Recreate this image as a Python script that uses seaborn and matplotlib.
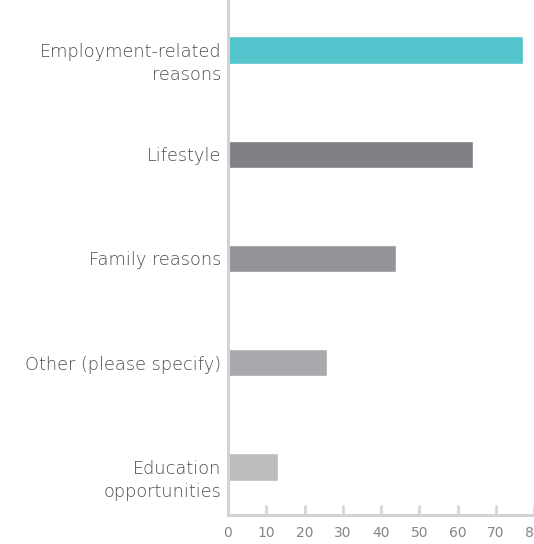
import matplotlib
matplotlib.use("Agg")
import matplotlib.pyplot as plt
import matplotlib.transforms as mtransforms
import seaborn as sns
import pandas as pd

categories = ["Employment-related\nreasons", "Lifestyle", "Family reasons",
              "Other (please specify)", "Education\nopportunities"]
values = [77, 64, 44, 26, 13]
colors = ["#53C4CC", "#808185", "#949598", "#A8A9AC", "#BCBDBF"]
xticks = [0, 10, 20, 30, 40, 50, 60, 70, 80]

sns.set_theme(style="white")
plt.rcParams['font.family'] = ['DejaVu Sans']

df = pd.DataFrame({"category": categories, "value": values})

fig = plt.figure(figsize=(5.34, 5.44), dpi=100)
ax = fig.add_axes([228/534, 29/544, 1 - 228/534, 515/544])

sns.barplot(data=df, y="category", x="value", hue="category",
            palette=colors, order=categories, hue_order=categories,
            width=0.26, legend=False, ax=ax, saturation=1)

ax.set_xlim(0, 80)
ax.set_ylim(4.46, -0.48)
ax.set_xticks(xticks)
ax.set_xticklabels([str(t) for t in xticks])
ax.set_xlabel("")
ax.set_ylabel("")

for s in ["top", "right"]:
    ax.spines[s].set_visible(False)
for s in ["left", "bottom"]:
    ax.spines[s].set_color("#D3D3D5")
    ax.spines[s].set_linewidth(2.2)

ax.tick_params(axis="x", direction="in", length=7, width=1.8, color="#D3D3D5",
               labelsize=10, labelcolor="#858585", pad=8, bottom=True)
ax.tick_params(axis="y", length=0, labelsize=12.8, labelcolor="#4a4a4a", pad=5)
shift = mtransforms.ScaledTranslation(0, 5.2 / 72, fig.dpi_scale_trans)
for lbl in ax.get_yticklabels():
    lbl.set_multialignment("right")
    lbl.set_verticalalignment("top")
    lbl.set_linespacing(1.35)
    lbl.set_fontweight("light")
    lbl.set_transform(lbl.get_transform() + shift)

fig.savefig("out.png", dpi=100)
